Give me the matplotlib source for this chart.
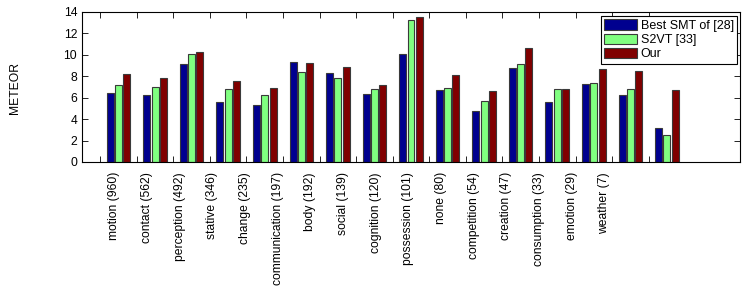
"""Grouped METEOR scores per verb category, three systems."""
import numpy as np
import matplotlib
matplotlib.use("Agg")
import matplotlib.pyplot as plt

plt.rcParams["font.family"] = ["Liberation Sans", "DejaVu Sans"]

categories = [
    "motion (960)", "contact (562)", "perception (492)", "stative (346)",
    "change (235)", "communication (197)", "body (192)", "social (139)",
    "cognition (120)", "possession (101)", "none (80)", "competition (54)",
    "creation (47)", "consumption (33)", "emotion (29)", "weather (7)",
]
series_names = ["Best SMT of [28]", "S2VT [33]", "Our"]
smt = [6.4, 6.3, 9.15, 5.6, 5.35, 9.3, 8.3, 6.35, 10.05, 6.7, 4.8, 8.8, 5.6, 7.3, 6.3, 3.2]
s2vt = [7.15, 7.0, 10.05, 6.85, 6.3, 8.4, 7.85, 6.85, 13.3, 6.9, 5.7, 9.15, 6.85, 7.4, 6.85, 2.5]
ours = [8.2, 7.8, 10.3, 7.6, 6.9, 9.2, 8.85, 7.15, 13.55, 8.15, 6.6, 10.65, 6.85, 8.7, 8.45, 6.7]

COLORS = ["#00008f", "#80ff80", "#800000"]
EDGE = "#3a3a3a"
FS = 8.7


def main(out_path="out.png"):
    fig = plt.figure(figsize=(7.47, 2.88), dpi=100)
    ax = fig.add_axes([82 / 747, 126 / 288, 658 / 747, 150 / 288])

    x = np.arange(1, len(categories) + 1)
    pitch = 0.227
    for i, (vals, name) in enumerate(zip([smt, s2vt, ours], series_names)):
        ax.bar(x + (i - 1) * pitch, vals, width=0.19, color=COLORS[i],
               edgecolor=EDGE, linewidth=0.8, label=name)

    ax.set_xlim(0, 18)
    ax.set_ylim(0, 14)
    ax.set_yticks(np.arange(0, 15, 2))
    ax.set_xticks(x - 0.5)
    ax.set_xticklabels([])
    ax.tick_params(direction="in", length=4, width=0.6, top=True, right=True,
                   labelsize=FS, pad=3.5)
    for spine in ax.spines.values():
        spine.set_color("black")
        spine.set_linewidth(0.8)

    # category names sit on their own spacing, not under the groups
    label_x = 0.889 + 0.8936 * np.arange(len(categories))
    for lx, name in zip(label_x, categories):
        ax.text(lx, -0.067, name, transform=ax.get_xaxis_transform(),
                rotation=90, ha="center", va="top", fontsize=FS)

    fig.text(15 / 747, 1 - 88 / 288, "METEOR", rotation=90, ha="center",
             va="center", fontsize=FS)

    leg = ax.legend(loc="upper right", bbox_to_anchor=(0.9954, 0.973),
                    borderaxespad=0, fancybox=False, framealpha=1,
                    edgecolor="black", fontsize=9, handlelength=2.6,
                    handleheight=0.9, labelspacing=0.15, handletextpad=0.3,
                    borderpad=0.25)
    leg.get_frame().set_linewidth(0.8)

    fig.savefig(out_path)


if __name__ == "__main__":
    main()
